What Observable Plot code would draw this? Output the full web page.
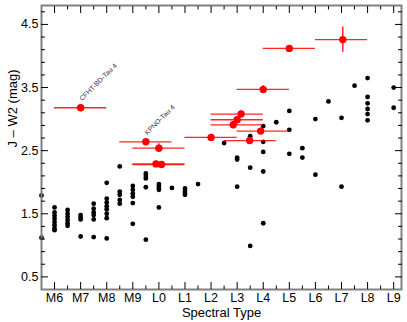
<!DOCTYPE html>
<html><head><meta charset="utf-8">
<script src="https://cdn.jsdelivr.net/npm/d3@7"></script>
<script src="https://cdn.jsdelivr.net/npm/@observablehq/plot@0.6"></script>
<style>body{margin:0;background:#fff} svg{display:block}</style>
</head><body><div id="chart"></div>
<script>
// Spectral type numeric code: M6=6 ... M9=9, L0=10 ... L9=19
const typeValues = [6,7,8,9,10,11,12,13,14,15,16,17,18,19];
const typeLabels = ["M6","M7","M8","M9","L0","L1","L2","L3","L4","L5","L6","L7","L8","L9"];
const yTickValues = [0.5,1.5,2.5,3.5,4.5];

// Field dwarfs (black)
const blackType = [
  5.5,5.5,
  6,6,6,6,6,6,6,6,
  6.5,6.5,6.5,6.5,6.5,6.5,
  7,7,7,7,
  7.5,7.5,7.5,7.5,7.5,7.5,
  8,8,8,8,8,8,8,8,
  8.5,8.5,8.5,8.5,8.5,
  9,9,9,9,9,9,
  9.5,9.5,9.5,9.5,9.5,
  10,10,10,10,10,
  10.5,
  11,11,11,11,
  11.5,
  12.5,
  13,13,13,
  13.5,13.5,13.5,
  14,14,14,14,14,
  14.5,
  15,15,15,
  15.5,15.5,
  16,16,
  16.5,
  17,17,
  17.5,
  18,18,18,18,18,18,
  19,19
];
const blackJW2 = [
  1.79,1.12,
  1.60,1.52,1.47,1.42,1.37,1.32,1.27,1.24,
  1.56,1.50,1.45,1.40,1.35,1.31,
  1.48,1.44,1.41,1.14,
  1.66,1.58,1.52,1.48,1.41,1.13,
  1.99,1.74,1.68,1.62,1.57,1.50,1.43,1.11,
  2.25,1.85,1.80,1.72,1.66,
  1.94,1.88,1.82,1.77,1.67,1.34,
  2.14,2.10,2.06,1.92,1.09,
  1.97,1.94,1.91,1.88,1.60,
  1.91,
  1.90,1.86,1.83,1.80,
  1.97,
  2.62,
  2.39,2.36,1.93,
  2.73,2.23,0.99,
  2.89,2.64,2.48,2.17,1.35,
  2.95,
  3.13,2.83,2.45,
  2.54,2.39,
  3.00,2.12,
  3.28,
  3.02,1.93,
  3.53,
  3.65,3.35,3.25,3.16,3.08,2.98,
  3.50,3.18
];

// Taurus objects (red) with error bars
const redType   = [7,   9.5, 10,  9.89,10.1,12,  12.85,13,  13.15,13.48,13.9,14,  15,  17.05];
const redJW2    = [3.18,2.64,2.54,2.29,2.28,2.71,2.91, 2.99,3.08, 2.66, 2.81,3.47,4.12,4.26];
const redTypeLo = [6,   8.5, 9,   9,   9,   11,  12,   12,  12,   12.5, 13,  13,  14,  16];
const redTypeHi = [8,   10.5,11,  11,  11,  13,  14,   14,  14,   14.5, 15,  15,  16,  18];
const redErr    = [0.03,0.04,0.07,0.03,0.03,0.04,0.05, 0.05,0.05, 0.05, 0.05,0.06,0.04,0.20];
const redNames  = ["CFHT-BD-Tau 4","KPNO-Tau 4","","","","","","","","","","","",""];

const font = "'Liberation Sans', Arial, Helvetica, sans-serif";
const bIdx = d3.range(blackType.length);
const rIdx = d3.range(redType.length);
const labIdx = rIdx.filter(i => redNames[i] !== "");

const minorX = d3.range(6.5, 19.3, 1);
const minorY = d3.range(0.3, 4.81, 0.2).map(v => +v.toFixed(1)).filter(v => !yTickValues.includes(v) && v > 0.35 && v < 4.78);
const fmtType = d => typeLabels[typeValues.indexOf(d)];
const blank = () => "";

const plot = Plot.plot({
  width: 407, height: 322,
  marginLeft: 41, marginRight: 6, marginTop: 5, marginBottom: 33,
  style: {fontFamily: font, fontSize: "12.5px", background: "white", color: "black"},
  x: {domain: [5.5, 19.3]},
  y: {domain: [0.3, 4.8]},
  marks: [
    Plot.dot(bIdx, {x: i => blackType[i], y: i => blackJW2[i], r: 2.4, fill: "black", stroke: "none"}),
    Plot.ruleY(rIdx, {x1: i => redTypeLo[i], x2: i => redTypeHi[i], y: i => redJW2[i], stroke: "#ff0000", strokeWidth: 1.3, strokeOpacity: 0.85}),
    Plot.ruleX(rIdx, {x: i => redType[i], y1: i => redJW2[i] - redErr[i], y2: i => redJW2[i] + redErr[i], stroke: "#ff0000", strokeWidth: 1.3}),
    Plot.dot(rIdx, {x: i => redType[i], y: i => redJW2[i], r: 3.7, fill: "#ff0000", stroke: "none"}),
    Plot.text(labIdx, {x: i => redType[i], y: i => redJW2[i], text: i => redNames[i], rotate: -45, textAnchor: "start", dy: -8, dx: 0, fontSize: 7, fill: "#333"}),
    Plot.frame({stroke: "#808080", strokeWidth: 2}),
    // major / minor ticks, inward, on all four sides
    Plot.axisX(typeValues, {anchor: "bottom", tickSize: -7, tickFormat: blank, label: null}),
    Plot.axisX(minorX, {anchor: "bottom", tickSize: -3.5, tickFormat: blank, label: null}),
    Plot.axisX(typeValues, {anchor: "top", tickSize: -7, tickFormat: blank, label: null}),
    Plot.axisX(minorX, {anchor: "top", tickSize: -3.5, tickFormat: blank, label: null}),
    Plot.axisY(yTickValues, {anchor: "left", tickSize: -7, tickFormat: blank, label: null}),
    Plot.axisY(minorY, {anchor: "left", tickSize: -4, tickFormat: blank, label: null}),
    Plot.axisY(yTickValues, {anchor: "right", tickSize: -7, tickFormat: blank, label: null}),
    Plot.axisY(minorY, {anchor: "right", tickSize: -4, tickFormat: blank, label: null}),
    // tick labels
    Plot.axisX(typeValues, {anchor: "bottom", tickSize: 0, tickPadding: 4, tickFormat: fmtType, label: null, fontSize: 12.5}),
    Plot.axisY(yTickValues, {anchor: "left", tickSize: 0, tickPadding: 3, tickFormat: d => d.toFixed(1), label: null, fontSize: 12.5}),
    // axis titles
    Plot.text(["Spectral Type"], {frameAnchor: "bottom", dy: 23, fontSize: 13, lineAnchor: "middle"}),
    Plot.text(["J – W2 (mag)"], {frameAnchor: "left", dx: -29, rotate: -90, fontSize: 13, lineAnchor: "middle"})
  ]
});
document.getElementById("chart").appendChild(plot);
</script>
</body></html>
